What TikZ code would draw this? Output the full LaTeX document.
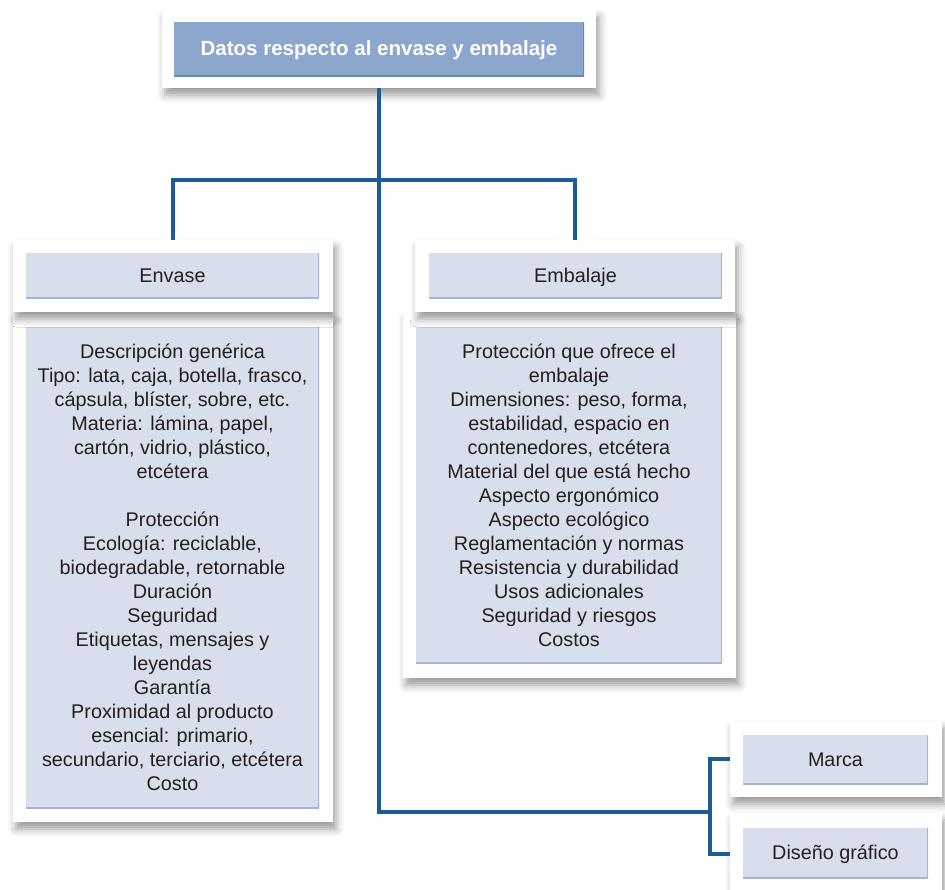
\documentclass[tikz,border=0pt]{standalone}
\usepackage{fontspec}
\setmainfont{Liberation Sans}
\usetikzlibrary{shadows.blur}

\definecolor{linea}{HTML}{1B5B98}
\definecolor{cajaclara}{HTML}{D9DEED}
\definecolor{bordeclaro}{HTML}{A3B5D6}
\definecolor{cajaazul}{HTML}{8CA6CD}
\definecolor{bordeazul}{HTML}{6587BA}
\definecolor{texto}{HTML}{231F20}

\begin{document}
\begin{tikzpicture}[x=1pt,y=-1pt,
    panel/.style={fill=white, inner sep=0pt,
      blur shadow={shadow xshift=3pt, shadow yshift=-7pt, shadow blur radius=8pt, shadow opacity=40}},
    caja/.style={fill=cajaclara, inner sep=0pt, align=center, text=texto,
      font=\fontsize{19.8}{24}\selectfont,
      path picture={
        \draw[bordeclaro, line width=2.5pt] (path picture bounding box.south west) -- (path picture bounding box.south east);
        \draw[bordeclaro, line width=1.5pt] (path picture bounding box.south east) -- (path picture bounding box.north east);}},
    rotulo/.style={caja, text height=17pt, text depth=4pt},
    cabeza/.style={rotulo, fill=cajaazul, text=white, font=\bfseries\fontsize{20.5}{24}\selectfont,
      path picture={
        \draw[bordeazul, line width=3pt] (path picture bounding box.south west) -- (path picture bounding box.south east);
        \draw[bordeazul, line width=1.5pt] (path picture bounding box.south east) -- (path picture bounding box.north east);}},
    conector/.style={draw=linea, line width=3.2pt}]
  \useasboundingbox (0,0) rectangle (945,889);

  % titulo
  \node[panel, minimum width=434pt, minimum height=78pt] (titulo) at (379,49) {};
  \node[cabeza, minimum width=410pt, minimum height=54pt] (tit) at (379,49) {Datos respecto al envase y embalaje};

  % envase
  \node[panel, minimum width=320pt, minimum height=508pt] (envasep) at (173,568) {};
  \node[caja, minimum width=293pt, minimum height=481pt] (envasetxt) at (172.5,567.5) {%
    Descripción genérica\\ Tipo: lata, caja, botella, frasco,\\ cápsula, blíster, sobre, etc.\\
    Materia: lámina, papel,\\ cartón, vidrio, plástico,\\ etcétera\\[24pt]
    Protección\\ Ecología: reciclable,\\ biodegradable, retornable\\ Duración\\ Seguridad\\
    Etiquetas, mensajes y\\ leyendas\\ Garantía\\ Proximidad al producto\\
    esencial: primario,\\ secundario, terciario, etcétera\\ Costo};
  \node[panel, minimum width=320pt, minimum height=72pt] (envase) at (173,276) {};
  \node[rotulo, minimum width=293pt, minimum height=45pt] at (172.5,275.5) {Envase};

  % embalaje
  \node[panel, minimum width=333pt, minimum height=365pt] (embalajep) at (569.5,495.5) {};
  \node[caja, minimum width=306pt, minimum height=336pt] (embalajetxt) at (569,495) {%
    Protección que ofrece el\\ embalaje\\ Dimensiones: peso, forma,\\ estabilidad, espacio en\\
    contenedores, etcétera\\ Material del que está hecho\\ Aspecto ergonómico\\ Aspecto ecológico\\
    Reglamentación y normas\\ Resistencia y durabilidad\\ Usos adicionales\\
    Seguridad y riesgos\\ Costos};
  \node[panel, minimum width=320pt, minimum height=72pt] (embalaje) at (575,276) {};
  \node[rotulo, minimum width=293pt, minimum height=45pt] at (575.5,275.5) {Embalaje};

  % marca y diseno
  \node[panel, minimum width=212pt, minimum height=76pt] (marca) at (836,759) {};
  \node[rotulo, minimum width=185pt, minimum height=49pt] at (835.5,759.5) {Marca};
  \node[panel, minimum width=212pt, minimum height=82pt] (diseno) at (836,854) {};
  \node[rotulo, minimum width=185pt, minimum height=50pt] at (835.5,853) {Diseño gráfico};

  % conectores
  \coordinate (ramal) at (379,180);
  \coordinate (codo) at (710,812);
  \draw[conector] (titulo.south) |- (codo);
  \draw[conector] (envase.north) |- (ramal) -| (embalaje.north);
  \draw[conector] (marca.west) -| (codo) |- (diseno.west);
\end{tikzpicture}
\end{document}
